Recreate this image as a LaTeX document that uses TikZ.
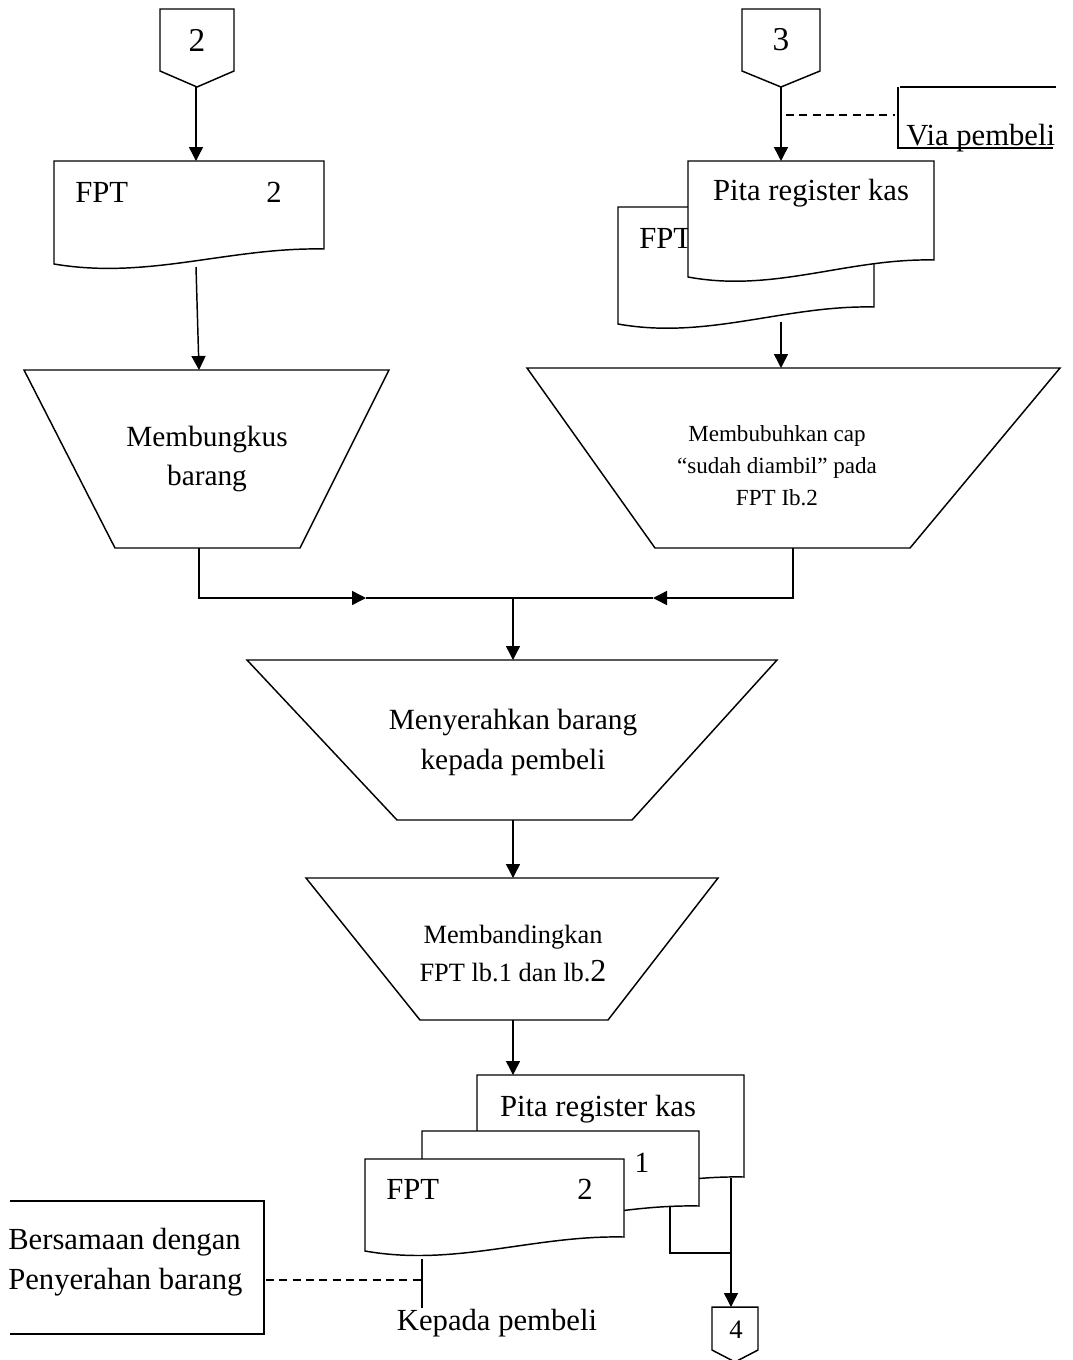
\documentclass[tikz,border=0pt]{standalone}
\usepackage{fontspec}
\setmainfont{Liberation Serif}
\usetikzlibrary{arrows.meta}
\tikzset{
  ln/.style={line width=1.1pt, line join=miter},
  arr/.style={ln, -{Triangle[length=10.5pt,width=10.5pt]}},
  dsh/.style={line width=1.1pt, dash pattern=on 6pt off 4pt},
  txt/.style={inner sep=0pt, font=\fontsize{23}{28.5}\selectfont},
  ttxt/.style={inner sep=0pt, align=center, font=\fontsize{22}{29}\selectfont},
}
\newcommand{\flowdoc}[5]{\filldraw[ln,fill=white] (#1,#2) -- (#3,#2) -- (#3,#4) .. controls ({#1+0.65*(#3-#1)},{#4-2}) and ({#1+0.35*(#3-#1)},{#5+16}) .. (#1,#5) -- cycle;}
\newcommand{\offpage}[5]{\draw[ln] (#1,#2) -- (#3,#2) -- (#3,#4) -- ({(#1+#3)/2},#5) -- (#1,#4) -- cycle;}
\begin{document}
\begin{tikzpicture}[x=0.75pt,y=-0.75pt]
\useasboundingbox (0,0) rectangle (1072,1360);

% ---------- left column top ----------
\offpage{160}{9}{234}{71}{87}
\node[txt,font=\fontsize{25}{30}\selectfont] (c2) at (197,40) {2};
\coordinate (c2b) at (196,87);

\flowdoc{54}{161}{324}{249}{264}
\node[txt,anchor=west] (fpt1) at (75,192) {FPT};
\node[txt] (fpt1n) at (274,192) {2};
\coordinate (d1t) at (196,161);
\coordinate (d1b) at (196,267);

\draw[ln] (24,370) -- (389,370) -- (300,548) -- (115,548) -- cycle;
\node[ttxt] (t1) at (207,459) {Membungkus\\barang};
\coordinate (t1t) at (199,370);
\coordinate (t1b) at (199,548);

\draw[arr] (c2b) -- (d1t);
\draw[arr] (d1b) -- (t1t);

% ---------- right column top ----------
\offpage{742}{9}{820}{71}{87}
\node[txt,font=\fontsize{25}{30}\selectfont] (c3) at (781,40) {3};
\coordinate (c3b) at (781,87);

\flowdoc{618}{207}{874}{307}{324}
\node[txt,anchor=west] (fpt2) at (639,238) {FPT};
\flowdoc{688}{161}{934}{260}{277}
\node[txt] (pita1) at (811,193) {Pita register kas};
\coordinate (d2t) at (781,161);
\coordinate (d2b) at (781,322);

\draw[arr] (c3b) -- (d2t);
\coordinate (dash1a) at (786,115);
\coordinate (dash1b) at (895,115);
\draw[dsh] (dash1a) -- (dash1b);
\draw[ln] (900,87) -- (1056,87);
\draw[ln] (898,87) -- (898,148) -- (1053,148);
\node[txt,anchor=base west] (via) at (906,145) {Via pembeli};

\draw[ln] (527,368) -- (1060,368) -- (910,548) -- (655,548) -- cycle;
\node[inner sep=0pt, align=center, font=\fontsize{17.3}{24}\selectfont] (t4) at (777,466) {Membubuhkan cap\\``sudah diambil'' pada\\FPT Ib.2};
\coordinate (t4t) at (781,368);
\coordinate (t4b) at (793,548);
\draw[arr] (d2b) -- (t4t);

% ---------- merge ----------
\coordinate (jl) at (199,598);
\coordinate (jr) at (793,598);
\coordinate (al) at (366,598);
\coordinate (ar) at (653,598);
\coordinate (jm) at (513,598);
\draw[arr] (t1b) -- (jl) -- (al);
\draw[arr] (t4b) -- (jr) -- (ar);
\draw[ln] (al) -- (ar);

\draw[ln] (247,660) -- (777,660) -- (632,820) -- (397,820) -- cycle;
\node[ttxt,font=\fontsize{22}{30}\selectfont] (t2) at (513,742) {Menyerahkan barang\\kepada pembeli};
\coordinate (t2t) at (513,660);
\coordinate (t2b) at (513,820);
\draw[arr] (jm) -- (t2t);

\draw[ln] (306,878) -- (718,878) -- (608,1020) -- (420,1020) -- cycle;
\node[inner sep=0pt, align=center, font=\fontsize{19.8}{28.5}\selectfont] (t3) at (513,954) {Membandingkan\\FPT lb.1 dan lb.{\fontsize{24}{28.5}\selectfont 2}};
\coordinate (t3t) at (513,878);
\coordinate (t3b) at (513,1020);
\draw[arr] (t2b) -- (t3t);

% ---------- bottom documents ----------
\flowdoc{477}{1075}{744}{1177}{1192}
\node[txt] (pita2) at (598,1109) {Pita register kas};
\flowdoc{422}{1131}{699}{1206}{1222}
\node[txt,font=\fontsize{22}{26}\selectfont] (one) at (642,1163) {1};
\flowdoc{365}{1159}{624}{1237}{1251}
\node[txt,anchor=west] (fpt3) at (386,1189) {FPT};
\node[txt] (fpt3n) at (585,1189) {2};
\coordinate (d3t) at (513,1075);
\draw[arr] (t3b) -- (d3t);

\coordinate (b1) at (670,1207);
\coordinate (b1c) at (670,1253);
\coordinate (b2) at (731,1178);
\coordinate (b2m) at (731,1253);
\draw[ln] (b1) -- (b1c) -- (b2m);

\offpage{712}{1307}{758}{1350}{1362}
\node[txt,font=\fontsize{20}{22}\selectfont] (c4) at (736,1330) {4};
\coordinate (c4t) at (731,1307);
\draw[arr] (b2) -- (c4t);

\coordinate (b3) at (422,1259);
\coordinate (b3e) at (422,1308);
\draw[ln] (b3) -- (b3e);
\node[txt] (kep) at (497,1323) {Kepada pembeli};

\draw[ln] (10,1201) -- (264,1201) -- (264,1334) -- (10,1334);
\node[txt,anchor=west,align=left,font=\fontsize{23}{30}\selectfont] (bers) at (8,1262) {Bersamaan dengan\\Penyerahan barang};
\coordinate (dash2a) at (266,1280);
\coordinate (dash2b) at (422,1280);
\draw[dsh] (dash2a) -- (dash2b);
\end{tikzpicture}
\end{document}
